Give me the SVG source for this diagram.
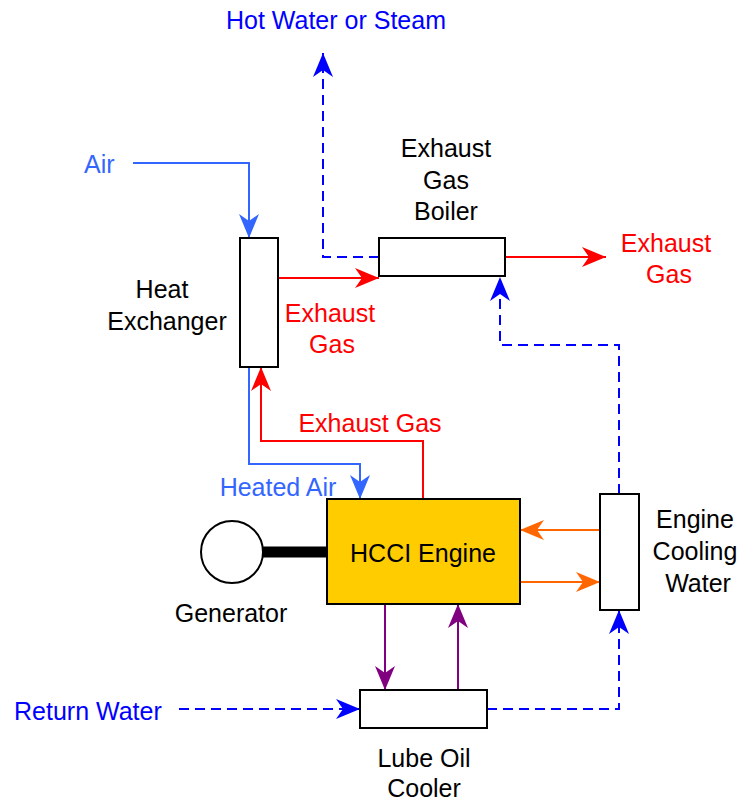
<svg xmlns="http://www.w3.org/2000/svg" width="742" height="803" viewBox="0 0 742 803">
<style>
text{font-family:"Liberation Sans",Arial,sans-serif;font-size:25px;}
.c{text-anchor:middle}
.box{fill:#fff;stroke:#000;stroke-width:2}
.ln{fill:none;stroke-width:2}
.dash{stroke-dasharray:10,6}
</style>
<defs>
<marker id="aB" markerUnits="userSpaceOnUse" viewBox="-25 -11 26 22" refX="0" refY="0" markerWidth="26" markerHeight="22" orient="auto"><path d="M0,0 L-24,-10 L-17,0 L-24,10 Z" fill="#0000FF"/></marker>
<marker id="aL" markerUnits="userSpaceOnUse" viewBox="-25 -11 26 22" refX="0" refY="0" markerWidth="26" markerHeight="22" orient="auto"><path d="M0,0 L-24,-10 L-17,0 L-24,10 Z" fill="#3366FF"/></marker>
<marker id="aR" markerUnits="userSpaceOnUse" viewBox="-25 -11 26 22" refX="0" refY="0" markerWidth="26" markerHeight="22" orient="auto"><path d="M0,0 L-24,-10 L-17,0 L-24,10 Z" fill="#FF0000"/></marker>
<marker id="aO" markerUnits="userSpaceOnUse" viewBox="-25 -11 26 22" refX="0" refY="0" markerWidth="26" markerHeight="22" orient="auto"><path d="M0,0 L-24,-10 L-17,0 L-24,10 Z" fill="#FF6600"/></marker>
<marker id="aP" markerUnits="userSpaceOnUse" viewBox="-25 -11 26 22" refX="0" refY="0" markerWidth="26" markerHeight="22" orient="auto"><path d="M0,0 L-24,-10 L-17,0 L-24,10 Z" fill="#800080"/></marker>
</defs>
<rect width="742" height="803" fill="#fff"/>
<g id="connectors">
<path class="ln" stroke="#3366FF" d="M133,163 H249 V238" marker-end="url(#aL)"/>
<path class="ln" stroke="#FF0000" d="M278,278 H379" marker-end="url(#aR)"/>
<path class="ln" stroke="#FF0000" d="M505,257 H606" marker-end="url(#aR)"/>
<path class="ln dash" stroke="#0000FF" d="M379,257 H323 V53" marker-end="url(#aB)"/>
<path class="ln dash" stroke="#0000FF" d="M619,494 V345 H500 V277" marker-end="url(#aB)"/>
<path class="ln" stroke="#3366FF" d="M249,367 V464 H360 V499" marker-end="url(#aL)"/>
<path class="ln" stroke="#FF0000" d="M423,499 V441 H261 V367" marker-end="url(#aR)"/>
<path class="ln" stroke="#FF6600" d="M600,530 H520" marker-end="url(#aO)"/>
<path class="ln" stroke="#FF6600" d="M520,582 H600" marker-end="url(#aO)"/>
<path d="M263,552 H327" fill="none" stroke="#000" style="stroke-width:11"/>
<path class="ln" stroke="#800080" d="M385,604 V690" marker-end="url(#aP)"/>
<path class="ln" stroke="#800080" d="M458,690 V604" marker-end="url(#aP)"/>
<path class="ln dash" stroke="#0000FF" d="M179,709 H360" marker-end="url(#aB)"/>
<path class="ln dash" stroke="#0000FF" d="M487,709 H619 V610" marker-end="url(#aB)"/>
</g>
<g id="heat-exchanger">
<rect class="box" x="240" y="238" width="38" height="129"/>
<text class="c" x="162" y="298">Heat</text>
<text class="c" x="167" y="330">Exchanger</text>
</g>
<g id="boiler">
<rect class="box" x="379" y="238" width="126" height="38"/>
<text class="c" x="446" y="157">Exhaust</text>
<text class="c" x="446" y="189">Gas</text>
<text class="c" x="446" y="220">Boiler</text>
</g>
<g id="engine">
<rect x="327" y="499" width="193" height="105" fill="#FFCC00" stroke="#000" stroke-width="2"/>
<text class="c" x="423" y="562">HCCI Engine</text>
</g>
<g id="generator">
<circle cx="232" cy="552" r="31" fill="#fff" stroke="#000" stroke-width="2"/>
<text class="c" x="231" y="622">Generator</text>
</g>
<g id="cooling-water">
<rect class="box" x="600" y="494" width="39" height="116"/>
<text class="c" x="695" y="528">Engine</text>
<text class="c" x="695" y="560">Cooling</text>
<text class="c" x="698" y="592">Water</text>
</g>
<g id="lube-oil-cooler">
<rect class="box" x="360" y="690" width="127" height="38"/>
<text class="c" x="424" y="767">Lube Oil</text>
<text class="c" x="424" y="797">Cooler</text>
</g>
<g id="labels">
<text class="c" x="336" y="29" fill="#0000FF">Hot Water or Steam</text>
<text x="84" y="173" fill="#3366FF">Air</text>
<text class="c" x="330" y="322" fill="#FF0000">Exhaust</text>
<text class="c" x="332" y="353" fill="#FF0000">Gas</text>
<text class="c" x="666" y="252" fill="#FF0000">Exhaust</text>
<text class="c" x="669" y="283" fill="#FF0000">Gas</text>
<text class="c" x="370" y="432" fill="#FF0000">Exhaust Gas</text>
<text class="c" x="278" y="496" fill="#3366FF">Heated Air</text>
<text x="14" y="720" fill="#0000FF">Return Water</text>
</g>
</svg>
